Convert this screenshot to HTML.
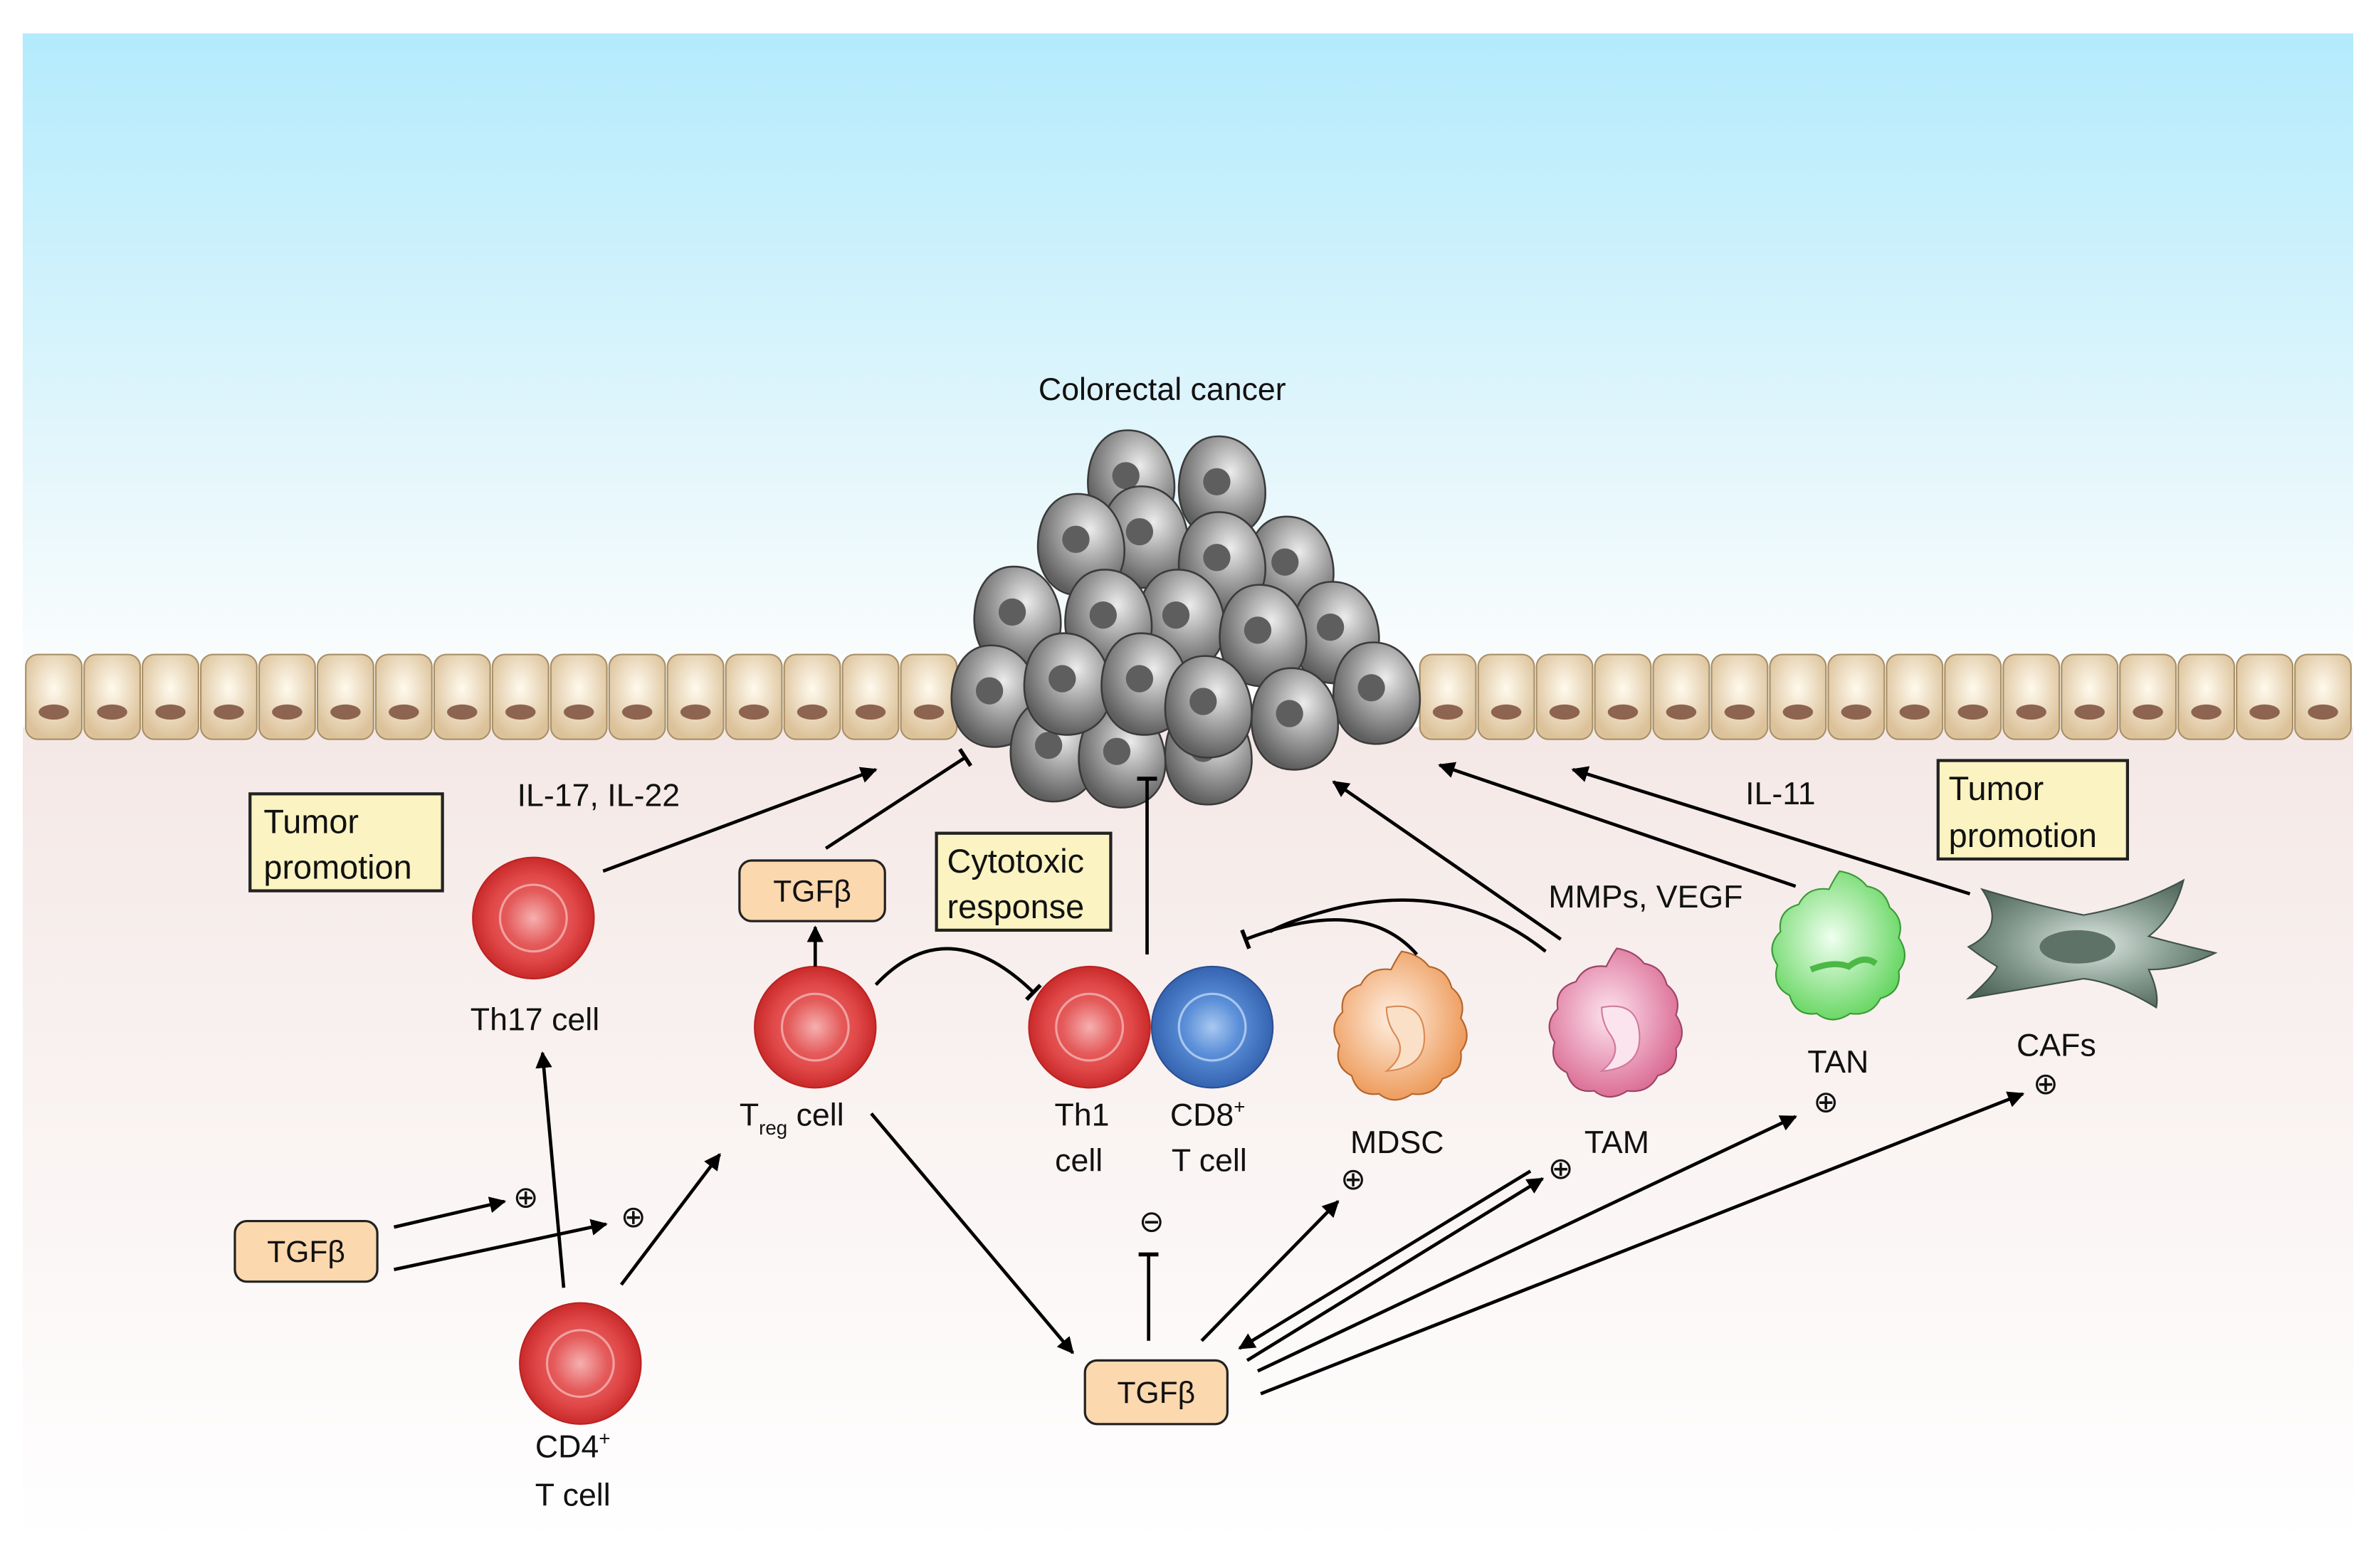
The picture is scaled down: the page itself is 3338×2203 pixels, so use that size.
<!DOCTYPE html>
<html><head><meta charset="utf-8"><style>
html,body{margin:0;padding:0;background:#fff}
svg{display:block}
text{font-family:"Liberation Sans",Arial,sans-serif;fill:#111}
</style></head><body>
<svg width="3338" height="2203" viewBox="0 0 1568 1035" preserveAspectRatio="none" xmlns="http://www.w3.org/2000/svg">
<defs>
<linearGradient id="sky" x1="0" y1="0" x2="0" y2="1"><stop offset="0" stop-color="#b3ebfc"/><stop offset="0.6" stop-color="#dff5fc"/><stop offset="1" stop-color="#fbfdfd"/></linearGradient>
<linearGradient id="low" x1="0" y1="0" x2="0" y2="1"><stop offset="0" stop-color="#f4e8e6"/><stop offset="1" stop-color="#ffffff"/></linearGradient>
<radialGradient id="epi" cx="0.5" cy="0.4" r="0.6"><stop offset="0" stop-color="#fffaee"/><stop offset="1" stop-color="#dcc29a"/></radialGradient>
<radialGradient id="tum" cx="0.6" cy="0.35" r="0.65"><stop offset="0" stop-color="#ececec"/><stop offset="0.55" stop-color="#9c9c9c"/><stop offset="1" stop-color="#5e5e5e"/></radialGradient>
<radialGradient id="red" cx="0.5" cy="0.5" r="0.5"><stop offset="0" stop-color="#f6b0b0"/><stop offset="0.45" stop-color="#e45a5a"/><stop offset="0.7" stop-color="#e14848"/><stop offset="1" stop-color="#c92a2a"/></radialGradient>
<radialGradient id="blue" cx="0.5" cy="0.5" r="0.5"><stop offset="0" stop-color="#a9c8f0"/><stop offset="0.45" stop-color="#5b8fd8"/><stop offset="1" stop-color="#3563b0"/></radialGradient>
<radialGradient id="org" cx="0.45" cy="0.45" r="0.6"><stop offset="0" stop-color="#fff1e4"/><stop offset="1" stop-color="#ec9450"/></radialGradient>
<radialGradient id="pink" cx="0.45" cy="0.45" r="0.6"><stop offset="0" stop-color="#fde4ef"/><stop offset="1" stop-color="#d9658f"/></radialGradient>
<radialGradient id="grn" cx="0.45" cy="0.45" r="0.6"><stop offset="0" stop-color="#f0fff0"/><stop offset="1" stop-color="#5fd45a"/></radialGradient>
<radialGradient id="caf" cx="0.5" cy="0.5" r="0.6"><stop offset="0" stop-color="#dfe8e3"/><stop offset="0.6" stop-color="#7f958a"/><stop offset="1" stop-color="#4d6258"/></radialGradient>
<marker id="ah" viewBox="0 0 10 10" refX="9" refY="5" markerWidth="5" markerHeight="5" orient="auto"><path d="M0,0 L10,5 L0,10 z" fill="#000"/></marker>
<marker id="bar" viewBox="0 0 10 10" refX="5" refY="5" markerWidth="6" markerHeight="6" orient="auto"><path d="M5,0 L5,10" stroke="#000" stroke-width="2"/></marker>
<g id="ec" stroke="#a88f66" stroke-width="1"><rect x="0" y="432" width="37" height="56" rx="8" fill="url(#epi)"/><ellipse cx="18.5" cy="470" rx="10" ry="5" fill="#8d6450" stroke="none"/></g>
<g id="tc" stroke="#3a3a3a" stroke-width="1.2"><path d="M-2,-34 C20,-34 30,-12 29,6 C28,24 14,34 -2,33 C-20,32 -29,16 -28,-2 C-27,-20 -18,-34 -2,-34z" fill="url(#tum)"/><circle cx="-3" cy="-4" r="9" fill="#5e5e5e" stroke="none"/></g>
</defs>
<rect x="15" y="22" width="1538" height="420" fill="url(#sky)"/>
<rect x="15" y="480" width="1538" height="540" fill="url(#low)"/>
<g>
<use href="#ec" x="17"/><use href="#ec" x="55.5"/><use href="#ec" x="94"/><use href="#ec" x="132.5"/><use href="#ec" x="171"/><use href="#ec" x="209.5"/><use href="#ec" x="248"/><use href="#ec" x="286.5"/><use href="#ec" x="325"/><use href="#ec" x="363.5"/><use href="#ec" x="402"/><use href="#ec" x="440.5"/><use href="#ec" x="479"/><use href="#ec" x="517.5"/><use href="#ec" x="556"/><use href="#ec" x="594.5"/>
<use href="#ec" x="937"/><use href="#ec" x="975.5"/><use href="#ec" x="1014"/><use href="#ec" x="1052.5"/><use href="#ec" x="1091"/><use href="#ec" x="1129.5"/><use href="#ec" x="1168"/><use href="#ec" x="1206.5"/><use href="#ec" x="1245"/><use href="#ec" x="1283.5"/><use href="#ec" x="1322"/><use href="#ec" x="1360.5"/><use href="#ec" x="1399"/><use href="#ec" x="1437.5"/><use href="#ec" x="1476"/><use href="#ec" x="1514.5"/>
</g>
<g>
<use href="#tc" x="746" y="318"/><use href="#tc" x="806" y="322"/><use href="#tc" x="851" y="375"/><use href="#tc" x="755" y="355"/><use href="#tc" x="713" y="360"/><use href="#tc" x="806" y="372"/>
<use href="#tc" x="779" y="410"/><use href="#tc" x="671" y="408"/><use href="#tc" x="731" y="410"/><use href="#tc" x="881" y="418"/><use href="#tc" x="833" y="420"/>
<use href="#tc" x="656" y="460"/><use href="#tc" x="908" y="458"/><use href="#tc" x="797" y="498"/><use href="#tc" x="695" y="496"/><use href="#tc" x="740" y="500"/>
<use href="#tc" x="704" y="452"/><use href="#tc" x="755" y="452"/><use href="#tc" x="854" y="475"/><use href="#tc" x="797" y="467"/>
</g>
<text x="767" y="264" font-size="21" text-anchor="middle">Colorectal cancer</text>
<g stroke="#222" stroke-width="2" fill="#fbf3c2">
<rect x="165" y="524" width="127" height="64"/><rect x="618" y="550" width="115" height="64"/><rect x="1279" y="502" width="125" height="65"/>
</g>
<g font-size="22">
<text x="174" y="550">Tumor</text><text x="174" y="580">promotion</text>
<text x="625" y="576">Cytotoxic</text><text x="625" y="606">response</text>
<text x="1286" y="528">Tumor</text><text x="1286" y="559">promotion</text>
</g>
<g stroke="#222" stroke-width="1.5" fill="#fbd8ae">
<rect x="488" y="568" width="96" height="40" rx="8"/><rect x="155" y="806" width="94" height="40" rx="8"/><rect x="716" y="898" width="94" height="42" rx="8"/>
</g>
<g font-size="20" text-anchor="middle">
<text x="536" y="595">TGFβ</text><text x="202" y="833">TGFβ</text><text x="763" y="926">TGFβ</text>
</g>
<g stroke="#b22" stroke-width="1">
<circle cx="352" cy="606" r="40" fill="url(#red)"/><circle cx="538" cy="678" r="40" fill="url(#red)"/><circle cx="719" cy="678" r="40" fill="url(#red)"/><circle cx="383" cy="900" r="40" fill="url(#red)"/>
</g>
<g fill="none" stroke="#f2a0a0" stroke-width="1.5"><circle cx="352" cy="606" r="22"/><circle cx="538" cy="678" r="22"/><circle cx="719" cy="678" r="22"/><circle cx="383" cy="900" r="22"/></g>
<circle cx="800" cy="678" r="40" fill="url(#blue)" stroke="#2a4f95"/>
<circle cx="800" cy="678" r="22" fill="none" stroke="#a8c6ee" stroke-width="1.5"/>
<path d="M925,628 q12,2 18,10 q12,2 15,14 q10,8 6,20 q8,12 0,22 q2,14 -12,18 q-6,12 -20,10 q-12,8 -22,0 q-14,2 -18,-12 q-12,-6 -8,-20 q-8,-12 2,-22 q-2,-14 12,-18 q6,-12 20,-10 q4,-8 7,-12z" fill="url(#org)" stroke="#b3652c"/>
<path d="M915,665 q25,-5 25,20 q0,20 -25,22 q15,-12 5,-25 q-5,-8 -5,-17z" fill="#fbe0c8" stroke="#d98a55"/>
<path d="M1067,626 q12,2 18,10 q12,2 15,14 q10,8 6,20 q8,12 0,22 q2,14 -12,18 q-6,12 -20,10 q-12,8 -22,0 q-14,2 -18,-12 q-12,-6 -8,-20 q-8,-12 2,-22 q-2,-14 12,-18 q6,-12 20,-10 q4,-8 7,-12z" fill="url(#pink)" stroke="#9c4466"/>
<path d="M1057,665 q25,-5 25,20 q0,20 -25,22 q15,-12 5,-25 q-5,-8 -5,-17z" fill="#fbe4ee" stroke="#d27a9c"/>
<path d="M1214,575 q12,2 18,10 q12,2 15,14 q10,8 6,20 q8,12 0,22 q2,14 -12,18 q-6,12 -20,10 q-12,8 -22,0 q-14,2 -18,-12 q-12,-6 -8,-20 q-8,-12 2,-22 q-2,-14 12,-18 q6,-12 20,-10 q4,-8 7,-12z" fill="url(#grn)" stroke="#3b9a35"/>
<path d="M1195,640 q15,-6 25,-2 q10,-8 18,-2" fill="none" stroke="#4cb846" stroke-width="4"/>
<path d="M1299,625 Q1325,612 1308,587 Q1345,598 1375,604 Q1410,598 1441,581 Q1435,605 1418,618 Q1440,624 1462,629 Q1440,640 1418,640 Q1425,655 1423,665 Q1395,648 1375,646 Q1340,652 1299,659 Q1315,645 1318,638 Q1308,632 1299,625z" fill="url(#caf)" stroke="#3f5048"/>
<ellipse cx="1371" cy="625" rx="25" ry="11" fill="#5e7268"/>
<g font-size="21" text-anchor="middle">
<text x="395" y="532">IL-17, IL-22</text>
<text x="353" y="680">Th17 cell</text>
<text x="714" y="743">Th1</text><text x="712" y="773">cell</text>
<text x="797" y="743">CD8<tspan font-size="13" dy="-8">+</tspan></text><text x="798" y="773">T cell</text>
<text x="922" y="761">MDSC</text><text x="1067" y="761">TAM</text>
<text x="1213" y="708">TAN</text><text x="1357" y="697">CAFs</text>
<text x="1086" y="599">MMPs, VEGF</text><text x="1175" y="531">IL-11</text>
<text x="378" y="962">CD4<tspan font-size="13" dy="-8">+</tspan></text><text x="378" y="994">T cell</text>
</g>
<text x="488" y="743" font-size="21">T<tspan font-size="13" dy="6">reg</tspan><tspan dy="-6"> cell</tspan></text>
<g font-size="20" text-anchor="middle">
<text x="347" y="797">⊕</text><text x="418" y="810">⊕</text><text x="893" y="785">⊕</text><text x="1030" y="778">⊕</text><text x="1205" y="734">⊕</text><text x="1350" y="722">⊕</text><text x="760" y="813">⊖</text>
</g>
<g stroke="#000" stroke-width="2.2" fill="none">
<path d="M398,575 L578,508" marker-end="url(#ah)"/>
<path d="M545,560 L637,500" marker-end="url(#bar)"/>
<path d="M538,638 L538,612" marker-end="url(#ah)"/>
<path d="M578,650 Q625,600 682,655" marker-end="url(#bar)"/>
<path d="M757,630 L757,514" marker-end="url(#bar)"/>
<path d="M935,630 Q900,590 822,620" marker-end="url(#bar)"/>
<path d="M1020,628 Q960,580 880,600 Q850,608 838,615"/>
<path d="M1030,620 L880,516" marker-end="url(#ah)"/>
<path d="M1185,585 L950,505" marker-end="url(#ah)"/>
<path d="M1300,590 L1038,508" marker-end="url(#ah)"/>
<path d="M372,850 L358,695" marker-end="url(#ah)"/>
<path d="M410,848 L475,762" marker-end="url(#ah)"/>
<path d="M260,810 L333,793" marker-end="url(#ah)"/>
<path d="M260,838 L400,808" marker-end="url(#ah)"/>
<path d="M575,735 L708,893" marker-end="url(#ah)"/>
<path d="M758,885 L758,828" marker-end="url(#bar)"/>
<path d="M793,885 L883,793" marker-end="url(#ah)"/>
<path d="M1010,773 L818,890" marker-end="url(#ah)"/>
<path d="M823,898 L1018,778" marker-end="url(#ah)"/>
<path d="M830,905 L1185,737" marker-end="url(#ah)"/>
<path d="M832,920 L1335,722" marker-end="url(#ah)"/>
</g>
</svg>
</body></html>
